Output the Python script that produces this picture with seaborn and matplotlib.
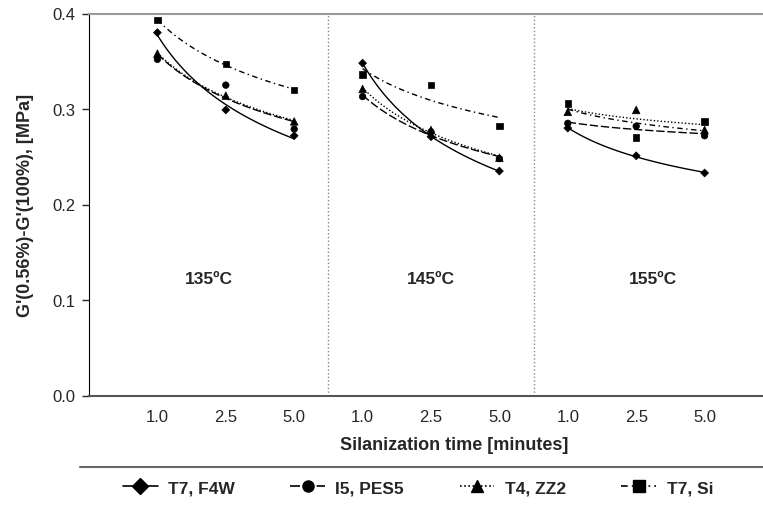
import matplotlib.pyplot as plt
import numpy as np
import pandas as pd
import seaborn as sns
from matplotlib.lines import Line2D

# values, 3 temperatures x 3 silanization times
times = ["1.0", "2.5", "5.0"]
temperatures = ["135ºC", "145ºC", "155ºC"]
series_names = ["T7, F4W", "I5, PES5", "T4, ZZ2", "T7, Si"]

t7_f4w = [0.380, 0.299, 0.272, 0.348, 0.271, 0.235, 0.280, 0.251, 0.233]
i5_pes5 = [0.352, 0.325, 0.279, 0.313, 0.276, 0.248, 0.285, 0.282, 0.272]
t4_zz2 = [0.358, 0.314, 0.287, 0.321, 0.278, 0.249, 0.297, 0.299, 0.278]
t7_si = [0.393, 0.347, 0.320, 0.336, 0.325, 0.282, 0.306, 0.270, 0.287]

markers = {"T7, F4W": "D", "I5, PES5": "o", "T4, ZZ2": "^", "T7, Si": "s"}
marker_sizes = {"T7, F4W": 16, "I5, PES5": 22, "T4, ZZ2": 30, "T7, Si": 22}
dashes = {"T7, F4W": "", "I5, PES5": (6, 2), "T4, ZZ2": (1, 1.5), "T7, Si": (4, 2.5, 1, 2.5)}

sns.set_style("white")
plt.rcParams["font.family"] = ["Liberation Sans", "DejaVu Sans"]

rows = []
trend_rows = []
n_times = len(times)
for name, vals in zip(series_names, [t7_f4w, i5_pes5, t4_zz2, t7_si]):
    for p, temp in enumerate(temperatures):
        y = np.array(vals[p * n_times:(p + 1) * n_times])
        for j, t in enumerate(times):
            rows.append({"series": name, "temp": temp, "time": t, "pos": p * n_times + j, "value": y[j]})
        # power trend line, like the spreadsheet one
        x = np.arange(1, n_times + 1)
        b, lna = np.polyfit(np.log(x), np.log(y), 1)
        grid = np.linspace(1, n_times, 60)
        for g in grid:
            trend_rows.append({"series": name, "temp": temp, "pos": p * n_times + g - 1,
                               "fit": np.exp(lna) * g ** b})

df = pd.DataFrame(rows)
df_trend = pd.DataFrame(trend_rows)

fig = plt.figure(figsize=(7.63, 5.06), dpi=100)
ax = fig.add_axes([89 / 763, 1 - 396.5 / 506, (763 - 89) / 763, 382 / 506])

sns.lineplot(data=df_trend, x="pos", y="fit", style="series", units="temp", estimator=None,
             dashes=dashes, color="black", lw=1, legend=False, ax=ax)
sns.scatterplot(data=df, x="pos", y="value", style="series", markers=markers, size="series",
                sizes=marker_sizes, color="black", edgecolor="black", linewidth=0.5,
                legend=False, ax=ax, zorder=3)

ax.set_xlim(-1, -1 + 674 / 68.4)
ax.set_ylim(0, 0.4)
ax.set_xticks(range(len(temperatures) * n_times))
ax.set_xticklabels(times * len(temperatures))
ax.set_yticks(np.arange(0, 0.41, 0.1))
ax.set_yticklabels([f"{v:.1f}" for v in np.arange(0, 0.41, 0.1)])
ax.tick_params(axis="y", direction="out", length=5, width=1, left=True, pad=5, labelsize=12)
ax.tick_params(axis="x", length=0, pad=10, labelsize=12)

ax.spines["right"].set_visible(False)
ax.spines["left"].set_color("black")
ax.spines["bottom"].set_color("#555555")
ax.spines["bottom"].set_linewidth(1.5)
ax.spines["top"].set_color("#999999")
ax.spines["top"].set_linewidth(1.5)

# dotted separators between the temperature groups
bounds = [-1] + [p * n_times - 0.5 for p in range(1, len(temperatures))] + [9]
for xb in bounds[1:-1]:
    ax.axvline(xb, color="#888888", ls=":", lw=1)
for p, temp in enumerate(temperatures):
    ax.text((bounds[p] + bounds[p + 1]) / 2, 0.122, temp, ha="center", va="center",
            fontsize=12.5, fontweight="bold")

ax.set_xlabel("Silanization time [minutes]", fontsize=13, fontweight="bold")
ax.xaxis.set_label_coords((454 - 89) / 674, -(437 - 396.5) / 382)
ax.set_ylabel("G'(0.56%)-G'(100%), [MPa]", fontsize=13, fontweight="bold")
ax.yaxis.set_label_coords(-0.082, 0.5)

# legend strip at the bottom
fig.add_artist(Line2D([80 / 763, 1], [1 - 467.5 / 506] * 2, transform=fig.transFigure,
                      color="#666666", lw=1.5))
handles = []
for name in series_names:
    kw = {"ls": "-"} if dashes[name] == "" else {"dashes": dashes[name]}
    handles.append(Line2D([], [], color="black", marker=markers[name], markersize=8, lw=1.2,
                          label=name, **kw))
fig.legend(handles=handles, loc="center", bbox_to_anchor=(418 / 763, 1 - 489 / 506), ncol=4,
           frameon=False, handlelength=2.0, handletextpad=0.6, columnspacing=3.2,
           prop={"weight": "bold", "size": 12.5})

fig.savefig("out.png", dpi=100)
